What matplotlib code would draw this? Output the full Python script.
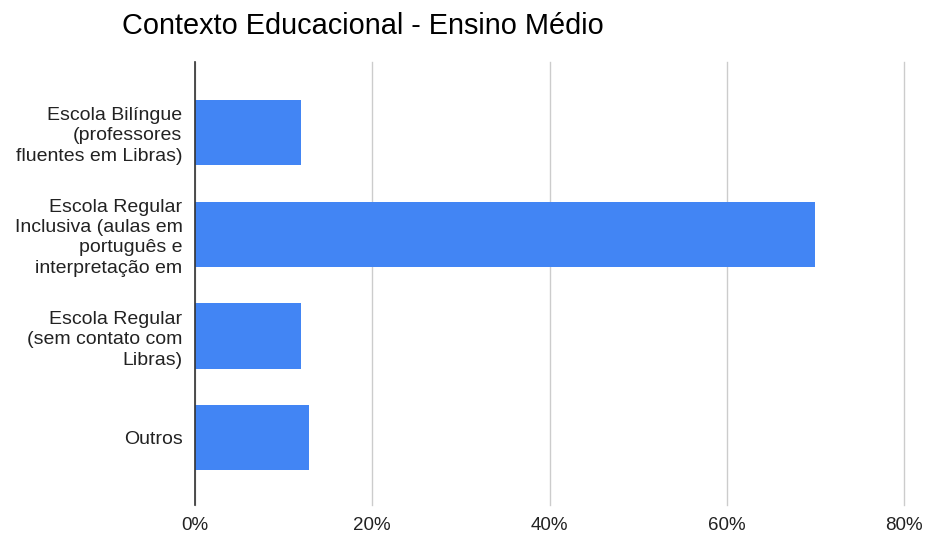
import matplotlib
matplotlib.use("Agg")
import matplotlib.pyplot as plt

# data
categorias = [
    "Escola Bilíngue\n(professores\nfluentes em Libras)",
    "Escola Regular\nInclusiva (aulas em\nportuguês e\ninterpretação em",
    "Escola Regular\n(sem contato com\nLibras)",
    "Outros",
]
percentuais = [12.0, 70.0, 12.0, 12.9]
ticks_x = [0, 20, 40, 60, 80]
tick_labels_x = ["0%", "20%", "40%", "60%", "80%"]

plt.rcParams["font.family"] = ["Liberation Sans", "DejaVu Sans"]

fig = plt.figure(figsize=(9.25, 5.37), dpi=100)
ax = fig.add_axes([195 / 925, 1 - 505 / 537, (904 - 195) / 925, (505 - 62) / 537])

pos = list(range(len(categorias)))
ax.barh(pos, percentuais, height=0.64, color="#4285F4", zorder=3)

ax.set_xlim(0, 80)
ax.set_ylim(3.66, -0.69)
ax.set_xticks(ticks_x)
ax.set_xticklabels(tick_labels_x, fontsize=13.5, color="#222222")
ax.set_yticks(pos)
ax.set_yticklabels(categorias, fontsize=14, color="#222222", linespacing=1.26)
ax.tick_params(axis="both", length=0)
ax.tick_params(axis="y", pad=9)
ax.tick_params(axis="x", pad=9)

ax.grid(axis="x", color="#cccccc", linewidth=1, zorder=0)
for gl in ax.get_xgridlines():
    gl.set_clip_on(False)
for s in ["top", "right", "bottom"]:
    ax.spines[s].set_visible(False)
ax.spines["left"].set_color("#333333")
ax.spines["left"].set_linewidth(1.2)
ax.spines["left"].set_zorder(4)

fig.text(122 / 925, 1 - 26 / 537, "Contexto Educacional - Ensino Médio",
         fontsize=20.8, color="#000000", ha="left", va="center")

fig.savefig("out.png", dpi=100)
